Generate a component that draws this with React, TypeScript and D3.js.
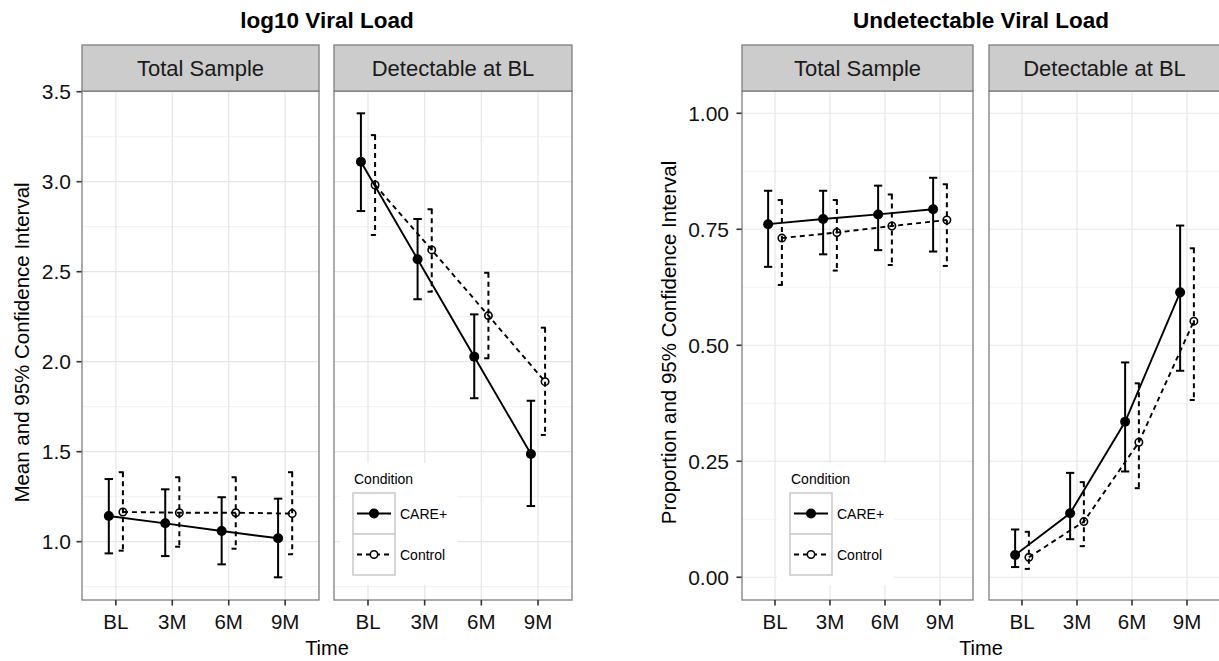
import React from "react";
import * as d3 from "d3";

// ---------- data ----------
const timeLabels = ["BL", "3M", "6M", "9M"];
const conditionLabels = ["CARE+", "Control"];
const panelLabels = ["Total Sample", "Detectable at BL"];

// log10 viral load – Total Sample
const vlTotalCareMean = [1.143, 1.102, 1.059, 1.019];
const vlTotalCareLo = [0.935, 0.92, 0.874, 0.802];
const vlTotalCareHi = [1.348, 1.291, 1.247, 1.239];
const vlTotalCtrlMean = [1.165, 1.161, 1.161, 1.156];
const vlTotalCtrlLo = [0.95, 0.972, 0.961, 0.93];
const vlTotalCtrlHi = [1.386, 1.358, 1.358, 1.386];
// log10 viral load – Detectable at BL
const vlDetCareMean = [3.111, 2.569, 2.028, 1.487];
const vlDetCareLo = [2.837, 2.347, 1.797, 1.198];
const vlDetCareHi = [3.38, 2.793, 2.263, 1.783];
const vlDetCtrlMean = [2.982, 2.621, 2.256, 1.889];
const vlDetCtrlLo = [2.704, 2.389, 2.019, 1.593];
const vlDetCtrlHi = [3.259, 2.847, 2.494, 2.189];

// undetectable viral load – Total Sample
const udTotalCareMean = [0.761, 0.772, 0.782, 0.793];
const udTotalCareLo = [0.669, 0.696, 0.705, 0.702];
const udTotalCareHi = [0.833, 0.833, 0.844, 0.861];
const udTotalCtrlMean = [0.731, 0.743, 0.757, 0.77];
const udTotalCtrlLo = [0.63, 0.661, 0.673, 0.671];
const udTotalCtrlHi = [0.813, 0.813, 0.825, 0.847];
// undetectable viral load – Detectable at BL
const udDetCareMean = [0.048, 0.138, 0.335, 0.614];
const udDetCareLo = [0.022, 0.082, 0.228, 0.445];
const udDetCareHi = [0.103, 0.225, 0.463, 0.758];
const udDetCtrlMean = [0.043, 0.12, 0.291, 0.552];
const udDetCtrlLo = [0.018, 0.067, 0.192, 0.382];
const udDetCtrlHi = [0.098, 0.205, 0.418, 0.709];

const vlTicks = [1.0, 1.5, 2.0, 2.5, 3.0, 3.5];
const udTicks = [0, 0.25, 0.5, 0.75, 1.0];

// ---------- styling ----------
const FONT = "'Liberation Sans', Arial, Helvetica, sans-serif";
const DASH = "5,4";

type Series = { mean: number[]; lo: number[]; hi: number[] };
type PanelData = { label: string; care: Series; ctrl: Series };

type ChartProps = {
  title: string;
  yTitle: string;
  yTitleX: number;
  yDomain: [number, number];
  yTicks: number[];
  yFmt: (v: number) => string;
  labelGap: number;
  panelX: [number, number][];
  panels: PanelData[];
  legendX: number;
};

const TOP = 91;
const BOTTOM = 600;
const STRIP_TOP = 45;

function Chart(p: ChartProps) {
  const y = d3.scaleLinear().domain(p.yDomain).range([BOTTOM, TOP]);
  const step = p.yTicks[1] - p.yTicks[0];
  const minor = [p.yTicks[0] - step / 2, ...p.yTicks.map((t) => t + step / 2)].filter(
    (v) => v > p.yDomain[0] && v < p.yDomain[1]
  );
  const left = p.panelX[0][0];
  const right = p.panelX[p.panelX.length - 1][1];

  return (
    <g>
      <text x={(left + right) / 2} y={28} textAnchor="middle" fontFamily={FONT} fontWeight="bold" fontSize={22.5} fill="#000">
        {p.title}
      </text>
      {/* y axis title */}
      <text
        transform={`translate(${p.yTitleX},${(TOP + BOTTOM) / 2 - 3}) rotate(-90)`}
        textAnchor="middle"
        fontFamily={FONT}
        fontSize={20.5}
        fill="#000"
      >
        {p.yTitle}
      </text>
      {/* y ticks & labels */}
      {p.yTicks.map((t) => (
        <g key={t}>
          <line x1={left - 5.5} x2={left} y1={y(t)} y2={y(t)} stroke="#333" strokeWidth={1.6} />
          <text x={left - p.labelGap} y={y(t)} dy="0.36em" textAnchor="end" fontFamily={FONT} fontSize={21} fill="#111">
            {p.yFmt(t)}
          </text>
        </g>
      ))}
      {p.panels.map((pd, i) => {
        const [x0, x1] = p.panelX[i];
        const x = d3.scalePoint<string>().domain(timeLabels).range([x0, x1]).padding(0.6);
        const st = x.step();
        const dodge = 0.125 * st;
        const cap = 0.075 * st;
        const careX = (k: number) => (x(timeLabels[k]) as number) - dodge;
        const ctrlX = (k: number) => (x(timeLabels[k]) as number) + dodge;
        const lineGen = (fx: (k: number) => number, s: Series) =>
          d3
            .line<number>()
            .x((_, k) => fx(k))
            .y((v) => y(v))(s.mean) as string;
        return (
          <g key={pd.label}>
            <rect x={x0} y={TOP} width={x1 - x0} height={BOTTOM - TOP} fill="#fff" />
            {minor.map((m) => (
              <line key={"m" + m} x1={x0} x2={x1} y1={y(m)} y2={y(m)} stroke="#f3f3f3" strokeWidth={1.2} />
            ))}
            {p.yTicks.map((t) => (
              <line key={"g" + t} x1={x0} x2={x1} y1={y(t)} y2={y(t)} stroke="#e6e6e6" strokeWidth={1.2} />
            ))}
            {timeLabels.map((tl) => (
              <line key={"v" + tl} x1={x(tl)} x2={x(tl)} y1={TOP} y2={BOTTOM} stroke="#e6e6e6" strokeWidth={1.2} />
            ))}
            {i === 1 && <rect x={p.legendX - 13} y={463} width={117} height={122} fill="#fff" />}
            {/* error bars */}
            {pd.care.mean.map((_, k) => {
              const xc = careX(k);
              return (
                <g key={"ec" + k} stroke="#000" strokeWidth={2}>
                  <line x1={xc - cap} x2={xc + cap} y1={y(pd.care.hi[k])} y2={y(pd.care.hi[k])} />
                  <line x1={xc} x2={xc} y1={y(pd.care.hi[k])} y2={y(pd.care.lo[k])} />
                  <line x1={xc - cap} x2={xc + cap} y1={y(pd.care.lo[k])} y2={y(pd.care.lo[k])} />
                </g>
              );
            })}
            {pd.ctrl.mean.map((_, k) => {
              const xc = ctrlX(k);
              return (
                <g key={"et" + k} stroke="#000" strokeWidth={2} strokeDasharray={DASH}>
                  <line x1={xc - cap} x2={xc + cap} y1={y(pd.ctrl.hi[k])} y2={y(pd.ctrl.hi[k])} />
                  <line x1={xc} x2={xc} y1={y(pd.ctrl.hi[k])} y2={y(pd.ctrl.lo[k])} />
                  <line x1={xc - cap} x2={xc + cap} y1={y(pd.ctrl.lo[k])} y2={y(pd.ctrl.lo[k])} />
                </g>
              );
            })}
            {/* lines */}
            <path d={lineGen(careX, pd.care)} fill="none" stroke="#000" strokeWidth={1.9} />
            <path d={lineGen(ctrlX, pd.ctrl)} fill="none" stroke="#000" strokeWidth={1.9} strokeDasharray={DASH} />
            {/* points */}
            {pd.care.mean.map((v, k) => (
              <circle key={"pc" + k} cx={careX(k)} cy={y(v)} r={5} fill="#000" />
            ))}
            {pd.ctrl.mean.map((v, k) => (
              <circle key={"pt" + k} cx={ctrlX(k)} cy={y(v)} r={3.7} fill="none" stroke="#000" strokeWidth={1.6} />
            ))}
            <rect x={x0} y={TOP} width={x1 - x0} height={BOTTOM - TOP} fill="none" stroke="#7f7f7f" strokeWidth={1.3} />
            <rect x={x0} y={STRIP_TOP} width={x1 - x0} height={TOP - STRIP_TOP} fill="#cccccc" stroke="#7f7f7f" strokeWidth={1.3} />
            <text x={(x0 + x1) / 2} y={76} textAnchor="middle" fontFamily={FONT} fontSize={22} fill="#1a1a1a">
              {pd.label}
            </text>
            {timeLabels.map((tl) => (
              <g key={"xt" + tl}>
                <line x1={x(tl)} x2={x(tl)} y1={BOTTOM} y2={BOTTOM + 5.5} stroke="#333" strokeWidth={1.6} />
                <text x={x(tl)} y={629} textAnchor="middle" fontFamily={FONT} fontSize={20.5} fill="#111">
                  {tl}
                </text>
              </g>
            ))}
          </g>
        );
      })}
      <text x={(left + right) / 2} y={655} textAnchor="middle" fontFamily={FONT} fontSize={20} fill="#000">
        Time
      </text>
      <Legend x={p.legendX} />
    </g>
  );
}

function Legend({ x }: { x: number }) {
  const keyW = 42;
  const keyH = 41;
  const top = 493;
  return (
    <g fontFamily={FONT}>
      <text x={x + 1} y={484} fontSize={14} fill="#000">
        Condition
      </text>
      {conditionLabels.map((c, i) => {
        const ky = top + i * keyH;
        const cy = ky + keyH / 2;
        return (
          <g key={c}>
            <rect x={x} y={ky} width={keyW} height={keyH} fill="#fff" stroke="#cccccc" strokeWidth={1.6} />
            <line
              x1={x + 4}
              x2={x + keyW - 4}
              y1={cy}
              y2={cy}
              stroke="#000"
              strokeWidth={1.9}
              strokeDasharray={i === 1 ? DASH : undefined}
            />
            {i === 0 ? (
              <circle cx={x + keyW / 2} cy={cy} r={5} fill="#000" />
            ) : (
              <circle cx={x + keyW / 2} cy={cy} r={3.7} fill="#fff" stroke="#000" strokeWidth={1.6} />
            )}
            <text x={x + keyW + 5} y={cy} dy="0.36em" fontSize={14} fill="#000">
              {c}
            </text>
          </g>
        );
      })}
    </g>
  );
}

export default function App() {
  const vlPanels: PanelData[] = [
    {
      label: panelLabels[0],
      care: { mean: vlTotalCareMean, lo: vlTotalCareLo, hi: vlTotalCareHi },
      ctrl: { mean: vlTotalCtrlMean, lo: vlTotalCtrlLo, hi: vlTotalCtrlHi },
    },
    {
      label: panelLabels[1],
      care: { mean: vlDetCareMean, lo: vlDetCareLo, hi: vlDetCareHi },
      ctrl: { mean: vlDetCtrlMean, lo: vlDetCtrlLo, hi: vlDetCtrlHi },
    },
  ];
  const udPanels: PanelData[] = [
    {
      label: panelLabels[0],
      care: { mean: udTotalCareMean, lo: udTotalCareLo, hi: udTotalCareHi },
      ctrl: { mean: udTotalCtrlMean, lo: udTotalCtrlLo, hi: udTotalCtrlHi },
    },
    {
      label: panelLabels[1],
      care: { mean: udDetCareMean, lo: udDetCareLo, hi: udDetCareHi },
      ctrl: { mean: udDetCtrlMean, lo: udDetCtrlLo, hi: udDetCtrlHi },
    },
  ];
  const f1 = d3.format(".1f");
  const f2 = d3.format(".2f");
  return (
    <svg width={1219} height={661} style={{ position: "absolute", left: 0, top: 0, background: "#fff" }}>
      <rect width={1219} height={661} fill="#fff" />
      <Chart
        title="log10 Viral Load"
        yTitle="Mean and 95% Confidence Interval"
        yTitleX={29}
        yDomain={[0.676, 3.504]}
        yTicks={vlTicks}
        yFmt={f1}
        labelGap={11}
        panelX={[
          [82, 319],
          [334, 572],
        ]}
        panels={vlPanels}
        legendX={353}
      />
      <Chart
        title="Undetectable Viral Load"
        yTitle="Proportion and 95% Confidence Interval"
        yTitleX={676}
        yDomain={[-0.049, 1.048]}
        yTicks={udTicks}
        yFmt={f2}
        labelGap={13}
        panelX={[
          [742, 973],
          [989, 1220],
        ]}
        panels={udPanels}
        legendX={790}
      />
    </svg>
  );
}
